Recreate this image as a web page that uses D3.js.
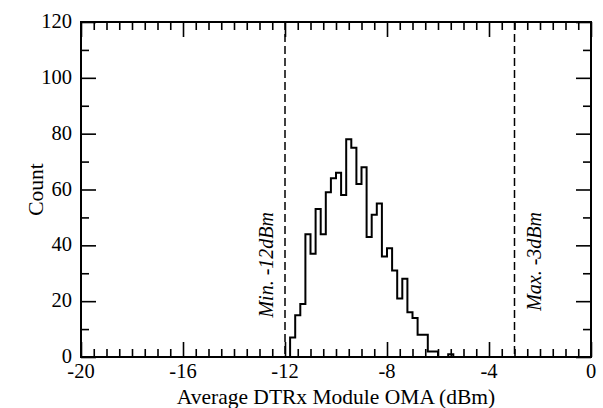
<!DOCTYPE html>
<html>
<head>
<meta charset="utf-8">
<script src="https://cdn.jsdelivr.net/npm/d3@7"></script>
<style>
  html, body { margin: 0; padding: 0; background: #fff; }
</style>
</head>
<body>
<svg id="chart" width="603" height="408"></svg>
<script>
// ---- data ----
const binStart = -11.8;
const binWidth = 0.2;
const counts = [7, 15, 19, 44, 37, 53, 44, 59, 64, 66, 58, 78, 75, 62, 68, 43, 51, 55, 36, 39, 31, 21, 28, 16, 14, 8, 8, 2, 2, 0, 0, 1, 0];
const xTickLabels = [-20, -16, -12, -8, -4, 0];
const yTickLabels = [0, 20, 40, 60, 80, 100, 120];
const limits = [-12, -3];
const limitLabels = ["Min. -12dBm", "Max. -3dBm"];
const xTitle = "Average DTRx Module OMA (dBm)";
const yTitle = "Count";

const FONT = "'Liberation Serif', 'DejaVu Serif', 'Times New Roman', Times, serif";

// ---- layout ----
const svg = d3.select("#chart");
const L = 81, R = 591, T = 22, B = 357;
const x = d3.scaleLinear().domain([-20, 0]).range([L, R]);
const y = d3.scaleLinear().domain([0, 120]).range([B, T]);

const bins = counts.map((c, i) => ({ x0: binStart + i * binWidth, x1: binStart + (i + 1) * binWidth, c }));

// histogram step line
const pts = [[bins[0].x0, 0]];
bins.forEach(b => { pts.push([b.x0, b.c]); pts.push([b.x1, b.c]); });
pts.push([bins[bins.length - 1].x1, 0]);
svg.append("path")
  .attr("d", d3.line().x(d => x(d[0])).y(d => y(d[1]))(pts))
  .attr("fill", "none").attr("stroke", "#000").attr("stroke-width", 2)
  .attr("stroke-linejoin", "miter");

// limit lines
svg.selectAll(".lim").data(limits).join("line")
  .attr("x1", d => x(d)).attr("x2", d => x(d))
  .attr("y1", T).attr("y2", B)
  .attr("stroke", "#000").attr("stroke-width", 1.5).attr("stroke-dasharray", "8,4");

const labelOffsets = [-12, 26];
svg.selectAll(".limlab").data(limits).join("text")
  .attr("transform", (d, i) => `translate(${x(d) + labelOffsets[i]},${212}) rotate(-90)`)
  .attr("text-anchor", "end")
  .attr("font-family", FONT)
  .attr("font-style", "italic").attr("font-size", 20)
  .text((d, i) => limitLabels[i]);

// axes (mirrored, ticks inward)
const minorX = d3.range(-20, 0.001, 0.5);
const minorY = d3.range(0, 120.001, 10);
const majX = 15, minX = 8;
function isMajorX(v) { return xTickLabels.some(t => Math.abs(t - v) < 1e-6); }
function isMajorY(v) { return yTickLabels.some(t => Math.abs(t - v) < 1e-6); }

const axisBottom = d3.axisBottom(x).tickValues(minorX).tickSizeOuter(0).tickFormat("");
const axisTop = d3.axisTop(x).tickValues(minorX).tickSizeOuter(0).tickFormat("");
const axisLeft = d3.axisLeft(y).tickValues(minorY).tickSizeOuter(0).tickFormat("");
const axisRight = d3.axisRight(y).tickValues(minorY).tickSizeOuter(0).tickFormat("");

const gB = svg.append("g").attr("transform", `translate(0,${B})`).call(axisBottom);
const gT = svg.append("g").attr("transform", `translate(0,${T})`).call(axisTop);
const gL = svg.append("g").attr("transform", `translate(${L},0)`).call(axisLeft);
const gR = svg.append("g").attr("transform", `translate(${R},0)`).call(axisRight);
[gB, gT, gL, gR].forEach(g => {
  g.select(".domain").remove();
  g.selectAll(".tick line").attr("stroke", "#000").attr("stroke-width", 1.6);
});
gB.selectAll(".tick line").attr("y2", d => isMajorX(d) ? -majX : -minX);
gT.selectAll(".tick line").attr("y2", d => isMajorX(d) ? majX : minX);
gL.selectAll(".tick line").attr("x2", d => isMajorY(d) ? majX : minX);
gR.selectAll(".tick line").attr("x2", d => isMajorY(d) ? -majX : -minX);

// frame
svg.append("rect").attr("x", L).attr("y", T).attr("width", R - L).attr("height", B - T)
  .attr("fill", "none").attr("stroke", "#000").attr("stroke-width", 2);

// tick labels
svg.selectAll(".xl").data(xTickLabels).join("text")
  .attr("x", d => x(d)).attr("y", B + 21)
  .attr("text-anchor", "middle").attr("font-family", FONT).attr("font-size", 20.5)
  .text(d => d);
svg.selectAll(".yl").data(yTickLabels).join("text")
  .attr("x", L - 9).attr("y", d => y(d)).attr("dy", "0.3em")
  .attr("text-anchor", "end").attr("font-family", FONT).attr("font-size", 20.5)
  .text(d => d);

// titles
svg.append("text").attr("x", (L + R) / 2).attr("y", 404)
  .attr("text-anchor", "middle").attr("font-family", FONT).attr("font-size", 21.5).text(xTitle);
svg.append("text").attr("transform", `translate(43,${(T + B) / 2}) rotate(-90)`)
  .attr("text-anchor", "middle").attr("font-family", FONT).attr("font-size", 21.5).text(yTitle);
</script>
</body>
</html>
